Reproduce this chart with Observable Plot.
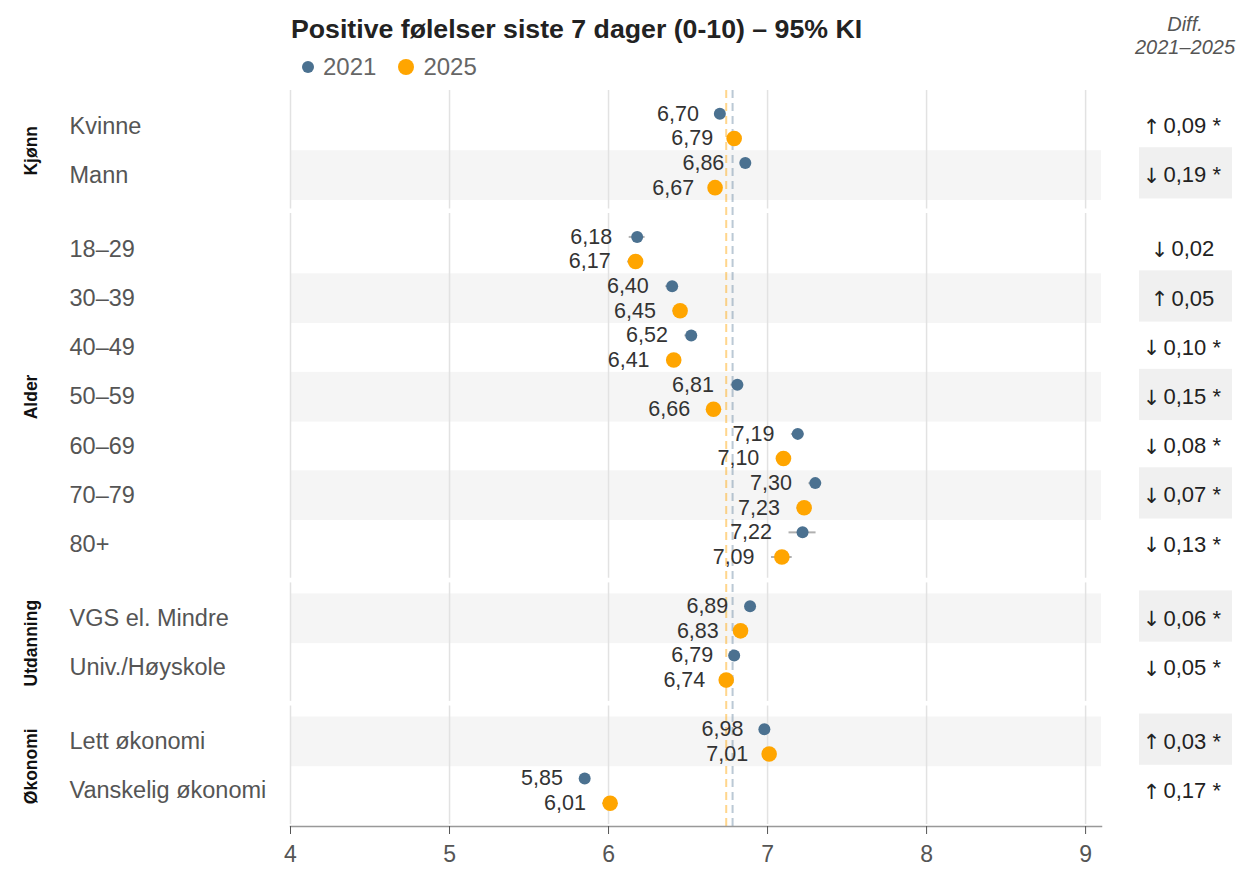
<!DOCTYPE html>
<html>
<head>
<meta charset="utf-8">
<script src="https://cdn.jsdelivr.net/npm/d3@7"></script>
<script src="https://cdn.jsdelivr.net/npm/@observablehq/plot@0.6"></script>
<style>
  body { margin: 0; background: #fff; font-family: "Liberation Sans", "DejaVu Sans", Arial, sans-serif; }
  #wrap { position: relative; width: 1241px; }
  #head { position: relative; height: 90px; }
  #title { position: absolute; left: 291px; top: 14px; font-size: 26.7px; font-weight: bold; color: #222; white-space: nowrap; }
  #legend { position: absolute; left: 302px; top: 53px; font-size: 24px; color: #666; display: flex; align-items: center; }
  #legend .sw { display: inline-block; border-radius: 50%; margin-right: 9px; }
  #legend .item { display: flex; align-items: center; margin-right: 22px; }
  #diffhead { position: absolute; left: 1115px; width: 140px; top: 13px; text-align: center; font-size: 20px; font-style: italic; color: #555; line-height: 23px; }
</style>
</head>
<body>
<div id="wrap">
  <div id="head">
    <div id="title"></div>
    <div id="legend"></div>
    <div id="diffhead"></div>
  </div>
  <div id="chart"></div>
</div>
<script>
// ---------------- data ----------------
const titleText = "Positive følelser siste 7 dager (0-10) – 95% KI";
const diffHeader = ["Diff.", "2021–2025"];
const years = ["2021", "2025"];
const yearColors = ["#4b7190", "#ffa500"];
const groups = ["Kjønn", "Alder", "Utdanning", "Økonomi"];
const categories = ["Kvinne", "Mann", "18–29", "30–39", "40–49", "50–59", "60–69", "70–79", "80+",
  "VGS el. Mindre", "Univ./Høyskole", "Lett økonomi", "Vanskelig økonomi"];
const categoryGroup = ["Kjønn", "Kjønn", "Alder", "Alder", "Alder", "Alder", "Alder", "Alder", "Alder",
  "Utdanning", "Utdanning", "Økonomi", "Økonomi"];
const values2021 = [6.70, 6.86, 6.18, 6.40, 6.52, 6.81, 7.19, 7.30, 7.22, 6.89, 6.79, 6.98, 5.85];
const values2025 = [6.79, 6.67, 6.17, 6.45, 6.41, 6.66, 7.10, 7.23, 7.09, 6.83, 6.74, 7.01, 6.01];
// half-width of the 95% confidence interval
const ci2021 = [0.025, 0.025, 0.05, 0.04, 0.04, 0.04, 0.04, 0.04, 0.085, 0.03, 0.025, 0.025, 0.03];
const ci2025 = [0.025, 0.025, 0.05, 0.045, 0.045, 0.04, 0.045, 0.045, 0.065, 0.03, 0.025, 0.025, 0.045];
const diffs = [0.09, -0.19, -0.02, 0.05, -0.10, -0.15, -0.08, -0.07, -0.13, -0.06, -0.05, 0.03, 0.17];
const significant = [true, true, false, false, true, true, true, true, true, true, true, true, true];
const mean2021 = 6.78;
const mean2025 = 6.74;
const xTicks = [4, 5, 6, 7, 8, 9];
const xDomain = [4, 9.1];

// ---------------- header ----------------
document.getElementById("title").textContent = titleText;
document.getElementById("diffhead").innerHTML = diffHeader.map(s => `<div>${s}</div>`).join("");
const legendSizes = [12, 16];
document.getElementById("legend").innerHTML = years.map((y, i) =>
  `<span class="item"><span class="sw" style="width:${legendSizes[i]}px;height:${legendSizes[i]}px;background:${yearColors[i]}"></span>${y}</span>`
).join("");

// ---------------- derived tables ----------------
const key = (c, y) => c + "|" + y;
const yDomain = [];
const groupKeys = {};
groups.forEach((g, gi) => {
  if (gi > 0) yDomain.push("gap" + gi);
  groupKeys[g] = [];
  categories.forEach((c, i) => {
    if (categoryGroup[i] === g) years.forEach(y => { yDomain.push(key(c, y)); groupKeys[g].push(key(c, y)); });
  });
});

const points = [];
categories.forEach((c, i) => {
  [[values2021, ci2021], [values2025, ci2025]].forEach(([vals, cis], yi) => {
    points.push({cat: c, year: years[yi], key: key(c, years[yi]), value: vals[i], lo: vals[i] - cis[i], hi: vals[i] + cis[i], idx: i});
  });
});
const shaded = points.filter(p => p.idx % 2 === 1);
const rows = categories.map((c, i) => ({cat: c, idx: i, diff: diffs[i], sig: significant[i]}));
const gridRows = [];
groups.forEach(g => xTicks.forEach(t => gridRows.push({x: t, y1: groupKeys[g][0], y2: groupKeys[g][groupKeys[g].length - 1]})));
const groupLabels = groups.map(g => ({g, k: groupKeys[g][groupKeys[g].length / 2 - 1]}));

const fmt = v => d3.format(".2f")(v).replace(".", ",");
const fmtDiffNum = r => fmt(Math.abs(r.diff)) + (r.sig ? " *" : "");
const fmtArrow = r => (r.diff >= 0 ? "↑" : "↓");

// ---------------- layout ----------------
const W = 1241, H = 781;
const marginLeft = 290, marginRight = 140, marginTop = 0, marginBottom = 45;
const insetY = 11;
const subBand = (H - marginTop - marginBottom - 2 * insetY) / yDomain.length;
const half = subBand / 2;
const FONT = "'Liberation Sans', 'DejaVu Sans', Arial, sans-serif";
const diffCenter = 84; // offset of diff column centre from the plot's right edge

const diffBoxes = (index, scales, values, dimensions) => {
  const g = d3.create("svg:g");
  rows.filter(r => r.idx % 2 === 1).forEach(r => {
    const y0 = scales.y(key(r.cat, years[0]));
    const y1 = scales.y(key(r.cat, years[1]));
    const bw = y1 - y0;
    g.append("rect")
      .attr("x", dimensions.width - dimensions.marginRight + 38)
      .attr("width", 93)
      .attr("y", y0 - 3)
      .attr("height", 2 * bw + 2)
      .attr("fill", "#f0f0f0");
  });
  return g.node();
};

const arrowStyle = {frameAnchor: "right", textAnchor: "middle", dy: half + 1, fontSize: 21, fontFamily: "'DejaVu Sans', sans-serif", fill: "#222"};
const numStyle = {frameAnchor: "right", textAnchor: "start", dy: half, fontSize: 22, fill: "#222"};

const chart = Plot.plot({
  width: W,
  height: H,
  marginLeft, marginRight, marginTop, marginBottom,
  style: {fontFamily: FONT, background: "#fff"},
  x: {domain: xDomain, axis: null},
  y: {type: "band", domain: yDomain, padding: 0, round: false, axis: null, insetTop: insetY, insetBottom: insetY},
  color: {domain: years, range: yearColors},
  marks: [
    Plot.barX(shaded, {y: "key", x1: xDomain[0], x2: xDomain[1], fill: "#f5f5f5", insetBottom: -0.5}),
    Plot.ruleX(gridRows, {x: "x", y1: "y1", y2: "y2", stroke: "#e2e2e2", strokeWidth: 1.5, insetTop: -insetY, insetBottom: -9}),
    Plot.ruleX([mean2025], {stroke: "#ffa500", strokeOpacity: 0.45, strokeWidth: 2, strokeDasharray: "8,5"}),
    Plot.ruleX([mean2021], {stroke: "#4b7190", strokeOpacity: 0.38, strokeWidth: 2, strokeDasharray: "8,5"}),
    Plot.frame({anchor: "bottom", stroke: "#999", strokeWidth: 1.5}),
    Plot.axisX({ticks: xTicks, tickSize: 8, tickPadding: 11, fontSize: 23, color: "#555", tickFormat: d => String(d)}),
    Plot.ruleY(points, {y: "key", x1: "lo", x2: "hi", stroke: "#b0b0b0", strokeWidth: 2}),
    Plot.dot(points.filter(p => p.year === years[0]), {x: "value", y: "key", r: 6, fill: "year"}),
    Plot.dot(points.filter(p => p.year === years[1]), {x: "value", y: "key", r: 7.8, fill: "year"}),
    Plot.text(points, {x: "lo", y: "key", text: p => fmt(p.value), textAnchor: "end", dx: -17, fontSize: 21.5, fill: "#333"}),
    Plot.text(rows, {y: r => key(r.cat, years[0]), text: "cat", frameAnchor: "left", textAnchor: "start", dx: 69 - marginLeft, dy: half, fontSize: 23.5, fill: "#555"}),
    Plot.text(groupLabels, {y: "k", text: "g", frameAnchor: "left", textAnchor: "middle", rotate: -90, dx: 31 - marginLeft, dy: half, fontSize: 17.5, fontWeight: "bold", fill: "#111"}),
    diffBoxes,
    Plot.text(rows.filter(r => r.sig), {y: r => key(r.cat, years[0]), text: fmtArrow, dx: diffCenter - 34, ...arrowStyle}),
    Plot.text(rows.filter(r => !r.sig), {y: r => key(r.cat, years[0]), text: fmtArrow, dx: diffCenter - 26, ...arrowStyle}),
    Plot.text(rows.filter(r => r.sig), {y: r => key(r.cat, years[0]), text: fmtDiffNum, dx: diffCenter - 22, ...numStyle}),
    Plot.text(rows.filter(r => !r.sig), {y: r => key(r.cat, years[0]), text: fmtDiffNum, dx: diffCenter - 14, ...numStyle})
  ]
});
document.getElementById("chart").appendChild(chart);
</script>
</body>
</html>
